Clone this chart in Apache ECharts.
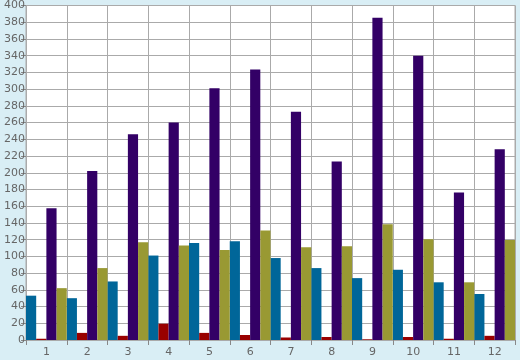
<!DOCTYPE html>
<html>
<head>
<meta charset="utf-8">
<script src="https://cdn.jsdelivr.net/npm/echarts@6/dist/echarts.min.js"></script>
<style>
html,body{margin:0;padding:0;background:#d9eef5;}
#c{width:520px;height:360px;}
</style>
</head>
<body>
<div id="c"></div>
<script>
var categories = ['1','2','3','4','5','6','7','8','9','10','11','12'];
var blueValues   = [53, 50, 70, 101, 116, 118, 98, 86, 74, 84, 69, 55];
var redValues    = [1.5, 8.5, 5, 19.5, 8.5, 6, 3, 3.6, 0.8, 3.6, 1.5, 5];
var purpleValues = [157.5, 202, 246, 260, 301, 323.5, 273, 213.5, 385.5, 340, 176.5, 228];
var oliveValues  = [62, 86, 117, 113, 107.5, 131, 111, 112, 138.5, 120.5, 69, 119.5];

var chart = echarts.init(document.getElementById('c'), null, {renderer: 'canvas'});
var labelStyle = {color: '#666666', fontFamily: 'DejaVu Sans', fontSize: 11};
function bar(name, data, color) {
  return {
    name: name, type: 'bar', data: data,
    barGap: '0%', barCategoryGap: '0%',
    itemStyle: {color: color},
    animation: false
  };
}
chart.setOption({
  backgroundColor: '#d9eef5',
  animation: false,
  grid: {
    left: 26, right: 5, top: 5, bottom: 20,
    show: true, backgroundColor: '#ffffff', borderColor: '#aaaaaa', borderWidth: 1
  },
  xAxis: {
    type: 'category',
    data: categories,
    axisLine: {show: true, lineStyle: {color: '#aaaaaa'}},
    axisTick: {show: true, length: 5, lineStyle: {color: '#888888'}},
    axisLabel: Object.assign({margin: 7}, labelStyle),
    splitLine: {show: true, interval: 0, lineStyle: {color: '#aaaaaa', width: 1}}
  },
  yAxis: {
    type: 'value',
    min: 0, max: 400, interval: 20,
    axisLine: {show: true, lineStyle: {color: '#aaaaaa'}},
    axisTick: {show: true, length: 5, lineStyle: {color: '#888888'}},
    axisLabel: Object.assign({margin: 1}, labelStyle),
    splitLine: {show: true, lineStyle: {color: '#aaaaaa', width: 1}}
  },
  series: [
    bar('blue', blueValues, '#006699'),
    bar('red', redValues, '#990000'),
    bar('purple', purpleValues, '#330066'),
    bar('olive', oliveValues, '#999933')
  ]
});
</script>
</body>
</html>
